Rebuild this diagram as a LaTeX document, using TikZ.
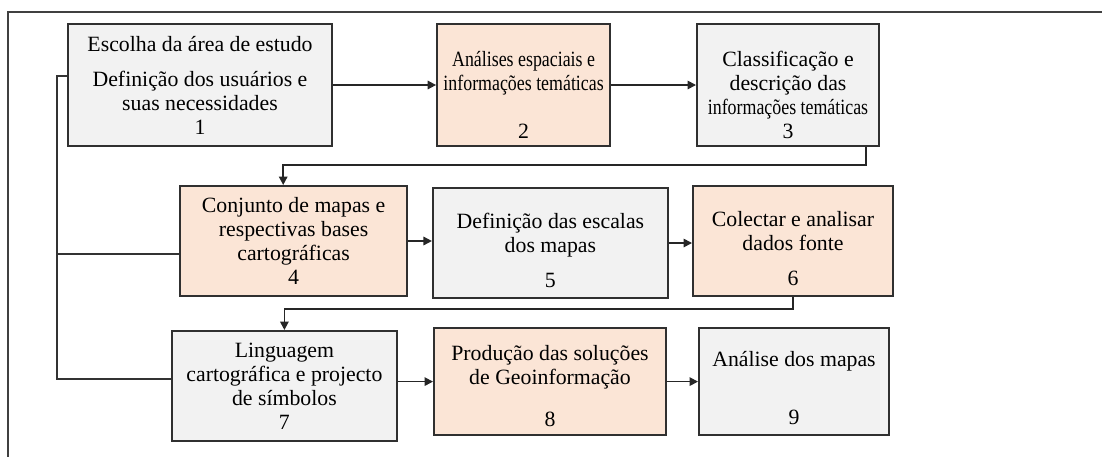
\documentclass[tikz,border=0pt]{standalone}
\usepackage{fontspec}
\usepackage{graphicx}
\setmainfont{Liberation Serif}
\usetikzlibrary{arrows.meta,positioning,calc}

\definecolor{boxgray}{HTML}{F2F2F2}
\definecolor{boxpeach}{HTML}{FBE5D6}
\definecolor{boxline}{HTML}{303030}

% first-line strut, pushes the text of a box a little down
\newcommand{\padtop}[1]{\rule{0pt}{#1}}
% squeezed line, for the long ones
\newcommand{\squeeze}[1]{\scalebox{0.82}[1]{#1}}

\begin{document}
\begin{tikzpicture}[
    font=\fontsize{15.5}{17}\selectfont,
    >={Triangle[width=6pt,length=6pt]},
    block/.style={draw=boxline, line width=1.4pt, fill=boxgray, align=center, inner sep=2pt},
    pblock/.style={block, fill=boxpeach},
    arr/.style={->, line width=1.2pt, black!85},
    link/.style={line width=1.2pt, black!80},
    frame/.style={line width=1.5pt, black!75}
  ]
  \useasboundingbox (0,0) rectangle (27.55,-11.425);

  % ---------- outer frame --------------------------------------------------
  \draw[frame] (27.55,-0.3) -| (0.2,-11.425);

  % ---------- first row ----------------------------------------------------
  \node[block, minimum width=6.6cm, minimum height=3.05cm] (n1) at (5.0,-2.125)
        {Escolha da área de estudo\\[8pt] Definição dos usuários e\\ suas necessidades\\ 1};
  \node[pblock, minimum width=4.325cm, minimum height=3.05cm] (n2) at (13.09,-2.125)
        {\padtop{25pt}\squeeze{Análises espaciais e}\\ \squeeze{informações temáticas}\\[17pt] 2};
  \node[block, minimum width=4.55cm, minimum height=3.05cm] (n3) at (19.7,-2.125)
        {\padtop{25pt}Classificação e\\ descrição das\\ \squeeze{informações temáticas}\\ 3};

  % ---------- second row ---------------------------------------------------
  \node[pblock, minimum width=5.675cm, minimum height=2.75cm] (n4) at (7.34,-6.025)
        {Conjunto de mapas e\\ respectivas bases\\ cartográficas\\ 4};
  \node[block, minimum width=5.875cm, minimum height=2.75cm] (n5) at (13.76,-6.075)
        {\padtop{21pt}Definição das escalas\\ dos mapas\\[8pt] 5};
  \node[pblock, minimum width=5.0cm, minimum height=2.75cm] (n6) at (19.825,-6.025)
        {\padtop{21pt}Colectar e analisar\\ dados fonte\\[8pt] 6};

  % ---------- third row ----------------------------------------------------
  \node[block, minimum width=5.625cm, minimum height=2.75cm] (n7) at (7.11,-9.65)
        {Linguagem\\ cartográfica e projecto\\ de símbolos\\ 7};
  \node[pblock, minimum width=5.8cm, minimum height=2.675cm] (n8) at (13.75,-9.54)
        {\padtop{17pt}Produção das soluções\\ de Geoinformação\\[13pt] 8};
  \node[block, minimum width=4.75cm, minimum height=2.675cm] (n9) at (19.85,-9.54)
        {\padtop{20pt}Análise dos mapas\\[24pt] 9};

  % ---------- flow ---------------------------------------------------------
  \draw[arr] (n1) -- (n2);
  \draw[arr] (n2) -- (n3);
  \draw[arr] ([xshift=-0.35cm]n3.south east) -- ++(0,-0.45) -| ([xshift=-0.26cm]n4.north);
  \draw[arr] (n4) -- (n4 -| n5.west);
  \draw[arr] (n5) -- (n5 -| n6.west);
  \draw[arr] (n6.south) -- ++(0,-0.3) -| (n7.north);
  \draw[arr] (n8.west -| n7.east) -- (n8.west);
  \draw[arr] (n8) -- (n9);

  % line on the left joining 1, 4 and 7
  \draw[link] ([yshift=0.225cm]n1.west) -- ++(-0.25,0) coordinate (fb)
        |- ([yshift=0.175cm]n7.west);
  \draw[link] ([yshift=-0.325cm]n4.west) -- ([yshift=-0.325cm]n4.west -| fb);

\end{tikzpicture}
\end{document}
